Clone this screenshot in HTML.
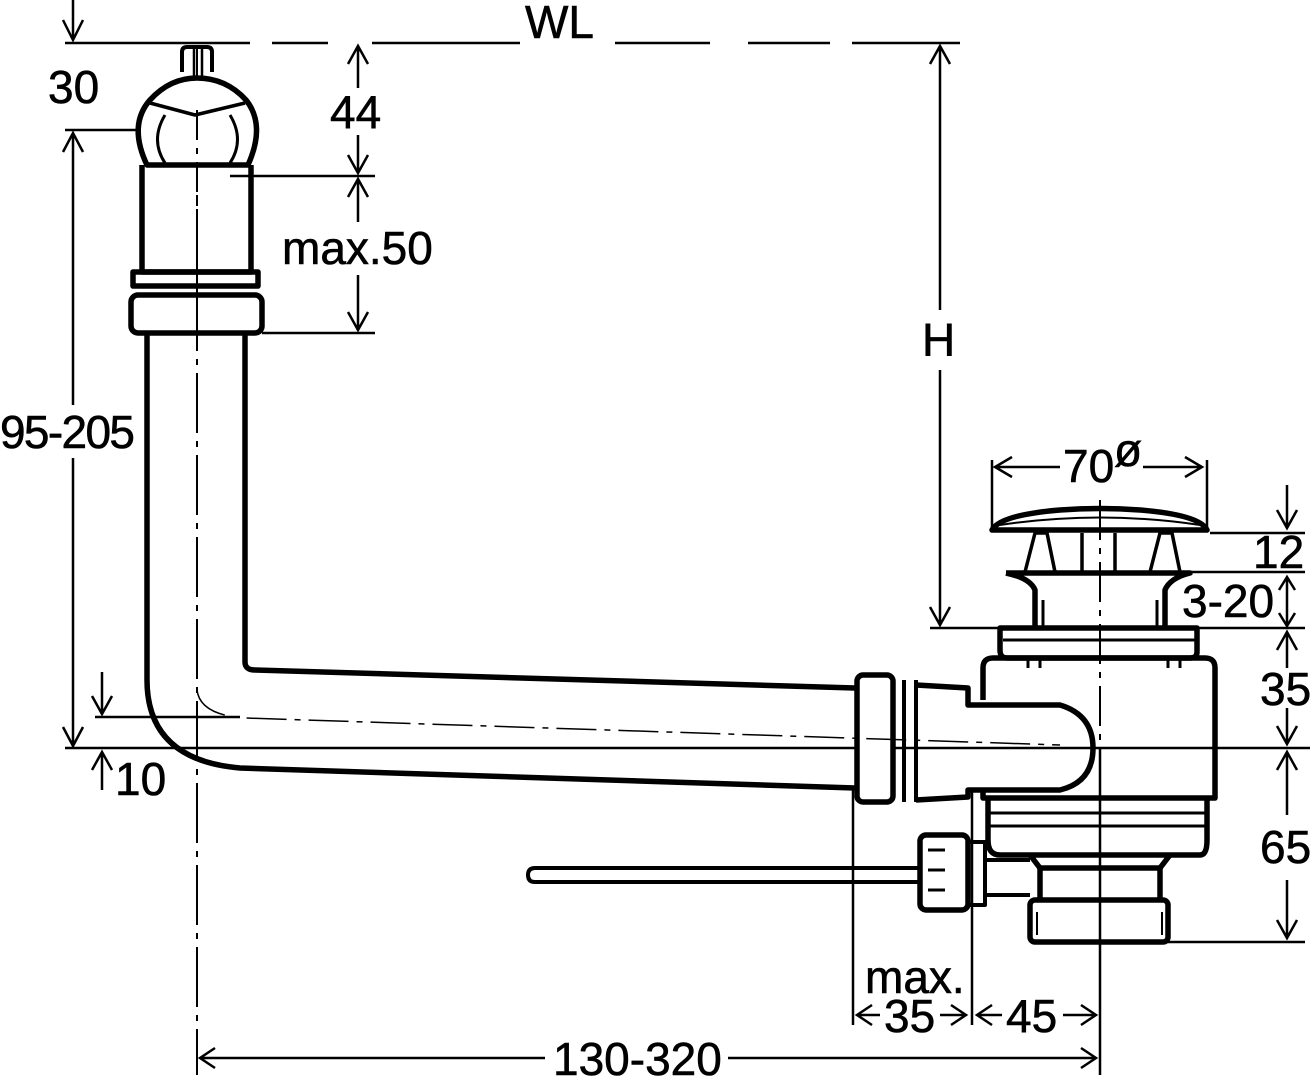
<!DOCTYPE html>
<html><head><meta charset="utf-8"><style>
html,body{margin:0;padding:0;background:#fff;width:1312px;height:1078px;overflow:hidden}
svg{display:block}
text{font-family:"Liberation Sans",sans-serif;font-size:46px;fill:#000;stroke:#000;stroke-width:0.6}
</style></head><body>
<svg width="1312" height="1078" viewBox="0 0 1312 1078" xmlns="http://www.w3.org/2000/svg">
<g fill="none" stroke="#000" stroke-width="2.5">
<path d="M65 43H250M272 43H328M372 43H520M615 43H710M748 43H830M852 43H960"/>
<path d="M73 0V40M63 20L73 40L83 20"/>
<path d="M65 130H195"/>
<path d="M73 133V405M73 458V745M63 152L73 133L83 152M63 727L73 746L83 727"/>
<path d="M102 672V714M92 696L102 714L112 696M95 717H240M102 790V752M92 770L102 752L112 770"/>
<path d="M65 748H1310"/>
<path d="M197 45V1075" stroke-width="2" stroke-dasharray="60 8 6 8"/>
<path d="M230 176H375M262 333H375"/>
<path d="M358 46V88M348 64L358 46L368 64M358 135V173M348 155L358 173L368 155"/>
<path d="M358 179V222M348 197L358 179L368 197M358 275V330M348 312L358 330L368 312"/>
<path d="M940 46V310M930 64L940 46L950 64M940 370V625M930 607L940 625L950 607M930 628H1195"/>
<path d="M992 460V532M1207 460V530M995 467H1060M1012 457L995 467L1012 477M1143 467H1202M1185 457L1202 467L1185 477"/>
<path d="M1210 533H1305M1190 572H1305M1195 628H1305M1160 942H1305"/>
<path d="M1287 485V528M1277 510L1287 528L1297 510"/>
<path d="M1287 577V626M1279 590L1287 577L1295 590M1279 613L1287 626L1295 613"/>
<path d="M1287 632V668M1277 650L1287 632L1297 650M1287 708V744M1277 726L1287 744L1297 726"/>
<path d="M1287 752V815M1277 770L1287 752L1297 770M1287 880V938M1277 920L1287 938L1297 920"/>
<path d="M853 790V1025M972 790V1025M1100 748V1075"/>
<path d="M857 1015H880M872 1005L857 1015L872 1025M940 1015H966M951 1005L966 1015L951 1025M977 1015H1002M992 1005L977 1015L992 1025M1063 1015H1096M1081 1005L1096 1015L1081 1025"/>
<path d="M200 1058H545M215 1048L200 1058L215 1068M728 1058H1096M1081 1048L1096 1058L1081 1068"/>
</g>
<g fill="none" stroke="#000" stroke-width="5.5" stroke-linejoin="round">
<path d="M182 72V52Q182 47 187 47H207Q212 47 212 52V72" stroke-width="4"/>
<path d="M194 45V108M202 45V108" stroke-width="2.5"/>
<path d="M147 165Q128 125 150 100Q170 78 197 78Q226 78 246 100Q266 125 248 165Z" fill="#fff"/>
<path d="M150 103L195 115L245 103" stroke-width="3.5"/>
<path d="M165 115Q150 140 165 163M230 115Q245 140 230 163" stroke-width="3"/>
<path d="M197 110V300" stroke="#000" stroke-width="2" stroke-dasharray="30 8 6 8"/>
<path d="M142 165V272H251V165" />
<rect x="133" y="272" width="125" height="14"/>
<rect x="131" y="295" width="131" height="38" rx="7"/>
<path d="M147 333V680Q147 760 240 768L855 788"/>
<path d="M245 333V662Q245 670 255 670L855 688"/>
<rect x="857" y="675" width="36" height="127" rx="6" fill="#fff"/>
<path d="M904 680V802M916 680V802" stroke-width="4"/>
<path d="M916 685L968 688V705H1060Q1093 715 1093 748Q1093 782 1060 790H968V797L916 800"/>
<path d="M983 700V668Q983 658 993 658H1205Q1215 658 1215 668V798H983V790"/>
<path d="M1000 628H1197V652Q1197 658 1190 658H1007Q1000 658 1000 650Z"/>
<path d="M1003 640H1195" stroke-width="3"/>
<path d="M1028 658V668M1040 658V668M1168 658V668M1180 658V668" stroke-width="3"/>
<path d="M988 800V840Q988 855 1000 855H1200Q1207 855 1207 840V800"/>
<path d="M990 813H1205M990 826H1205" stroke-width="3"/>
<path d="M1030 855L1040 868H1160L1170 855"/>
<path d="M1040 868V900M1160 868V900"/>
<rect x="1030" y="900" width="138" height="42" rx="5"/>
<path d="M1037 912V935M1162 912V935" stroke-width="2"/>
<path d="M992 530Q1000 515 1060 510Q1100 507 1140 510Q1200 515 1207 530Z" fill="#fff"/>
<path d="M1000 525Q1100 510 1200 525" stroke-width="2"/>
<path d="M1025 572L1035 533H1047L1055 572M1150 572L1160 533H1172L1180 572M1082 533V572M1115 533V572" stroke-width="3.5"/>
<path d="M1006 573H1190Q1170 578 1165 590V628M1006 573Q1030 578 1035 590V628" />
<path d="M1043 600V628M1157 600V628" stroke-width="3"/>
<rect x="920" y="835" width="48" height="75" rx="6" fill="#fff"/>
<path d="M928 850H945M928 870H945M928 890H945" stroke-width="3"/>
<path d="M968 842V905M968 842H985V905H968M985 860H1030M985 895H1030" stroke-width="4"/>
<path d="M920 868H535Q528 868 528 875Q528 882 535 882H920" stroke-width="4"/>
</g>
<path d="M197 690Q200 715 245 718L1060 745" fill="none" stroke="#000" stroke-width="1.5" stroke-dasharray="40 8 6 8"/>
<path d="M1100 500V1075" fill="none" stroke="#000" stroke-width="2" stroke-dasharray="40 8 6 8"/>
<rect x="520" y="20" width="95" height="40" fill="#fff"/>
<text x="525" y="38">WL</text>
<text x="48" y="103">30</text>
<text x="330" y="128">44</text>
<text x="282" y="264">max.50</text>
<text x="0" y="448" textLength="135">95-205</text>
<text x="115" y="795" font-size="40">10</text>
<text x="922" y="356">H</text>
<text x="1063" y="482" font-size="44">70</text>
<text x="1114" y="466" font-size="28">ø</text>
<text x="1253" y="568" font-size="40">12</text>
<text x="1182" y="617" font-size="42">3-20</text>
<text x="1260" y="705" font-size="42">35</text>
<text x="1260" y="863" font-size="42">65</text>
<text x="865" y="993" font-size="40">max.</text>
<text x="884" y="1032" font-size="42">35</text>
<text x="1006" y="1032" font-size="42">45</text>
<text x="553" y="1075" font-size="44">130-320</text>
</svg>
</body></html>
